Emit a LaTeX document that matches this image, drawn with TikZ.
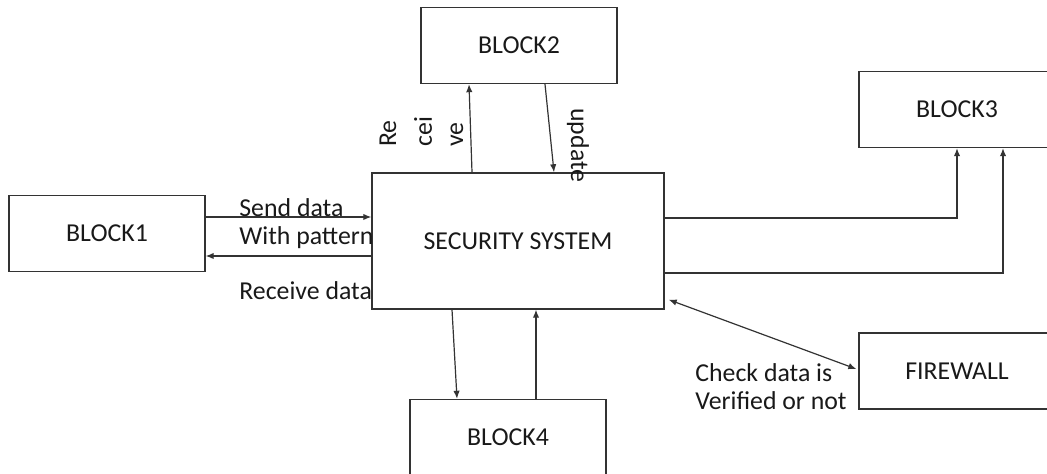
\documentclass[tikz,border=0pt]{standalone}
\usepackage{fontspec}
\setmainfont{Carlito}
\usepackage{tikz}
\usetikzlibrary{arrows.meta,positioning,calc}
\tikzset{
  blk/.style={draw=black!80,line width=0.7pt,minimum width=98pt,
              minimum height=38pt,inner sep=0pt,text=black!90},
  sblk/.style={blk,minimum width=146pt,minimum height=68pt},
  arr/.style={-{Latex[length=4pt,width=3.2pt]},line width=0.6pt,draw=black!80},
  dblarr/.style={arr,{Latex[length=4pt,width=3.2pt]}-{Latex[length=4pt,width=3.2pt]}},
  lbl/.style={inner sep=0pt,anchor=west,align=left,text=black!90},
}

\begin{document}
\begin{tikzpicture}[x=0.5pt,y=-0.5pt,font=\fontsize{12.9}{14}\selectfont]
\fill[white] (0,0) rectangle (1047,474);
\clip (0,0) rectangle (1047,474);
% blocks
\node[blk]  (b1) at (107,233.5) {BLOCK1};
\node[blk]  (b2) at (519,45.5)  {BLOCK2};
\node[blk]  (b3) at (957,109.5) {BLOCK3};
\node[sblk] (ss) at (518,241)   {SECURITY SYSTEM};
\node[blk]  (b4) at (508,437.5) {BLOCK4};
\node[blk]  (fw) at (957,371)   {FIREWALL};
% labels
\node[lbl] (snd) at (239,224) {Send data\\With pattern};
\node[lbl] (rcv) at (239,291) {Receive data};
\node[lbl] (chk) at (695,387) {Check data is\\Verified or not};
\node[lbl,rotate=90]  (re1) at (388,147) {Re};
\node[lbl,rotate=90]  (re2) at (423,147) {cei};
\node[lbl,rotate=90]  (re3) at (457,147) {ve};
\node[lbl,rotate=-90] (upd) at (578,108) {update};
% BLOCK1 <-> security system
\draw[arr] ($(b1.east)+(0,-16.5)$) -- ($(ss.west)+(0,-24)$);
\draw[arr] ($(ss.west)+(0,15)$) -- ($(b1.east)+(0,22.5)$);
% BLOCK2
\draw[arr] ($(ss.north)+(-46,0)$) -- ($(b2.south)+(-50,0)$);
\draw[arr] ($(b2.south)+(26,0)$) -- ($(ss.north)+(36,0)$);
% BLOCK3
\draw[arr] ($(ss.east)+(0,-23)$) -| (b3.south);
\draw[arr] ($(ss.east)+(0,32)$) -| ($(b3.south)+(46,0)$);
% BLOCK4
\draw[arr] ($(ss.south)+(-66,0)$) -- ($(b4.north)+(-51,0)$);
\draw[arr] ($(b4.north)+(28,0)$) -- ($(ss.south)+(18,0)$);
% firewall
\draw[dblarr] ($(ss.south east)+(4,-10)$) -- ($(fw.west)+(-2,-2)$);
\end{tikzpicture}
\end{document}
